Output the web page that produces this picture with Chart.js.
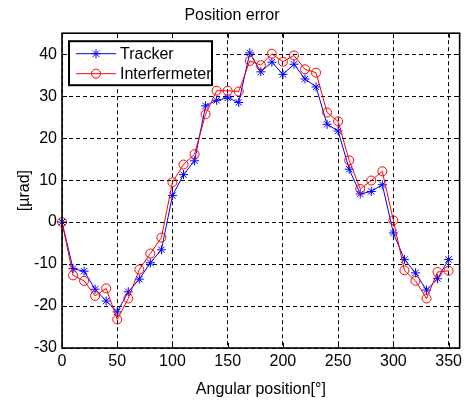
<!DOCTYPE html>
<html>
<head>
<meta charset="utf-8">
<script src="https://cdn.jsdelivr.net/npm/chart.js@4/dist/chart.umd.min.js"></script>
<style>
  html, body { margin: 0; padding: 0; background: #fff; }
  canvas { display: block; }
</style>
</head>
<body>
<canvas id="chart" width="466" height="401"></canvas>
<script>
const angles = [0, 10, 20, 30, 40, 50, 60, 70, 80, 90, 100, 110, 120, 130, 140, 150, 160, 170,
  180, 190, 200, 210, 220, 230, 240, 250, 260, 270, 280, 290, 300, 310, 320, 330, 340, 350];
const tracker = [0, -11.1, -11.7, -16.0, -18.8, -21.4, -16.6, -13.6, -9.7, -6.6, 6.3, 11.3, 14.6, 27.7,
  29.0, 29.6, 28.5, 40.3, 35.8, 38.1, 35.2, 37.6, 34.1, 32.2, 23.3, 21.7, 12.6, 6.7, 7.3, 8.9,
  -2.6, -8.9, -12.1, -16.2, -13.5, -8.9];
const interferometer = [0, -12.7, -14.0, -17.6, -15.8, -23.2, -18.2, -11.3, -7.5, -3.7, 9.5, 13.7, 16.2,
  25.7, 31.3, 31.3, 31.1, 38.4, 37.4, 40.1, 38.2, 39.7, 36.4, 35.6, 26.1, 24.0, 14.7, 7.9, 9.9, 12.1,
  0.4, -11.5, -14.0, -18.2, -11.9, -11.6];
const xTicks = [0, 50, 100, 150, 200, 250, 300, 350];
const yTicks = [-30, -20, -10, 0, 10, 20, 30, 40];

const FONT = "'Liberation Sans', Arial, sans-serif";
const BLUE = "#0000ff";
const RED = "#ff0000";

// MATLAB-style box, inward ticks and legend
const matlabAxes = {
  id: "matlabAxes",
  afterDatasetsDraw(chart) {
    const { ctx, chartArea: a } = chart;
    // legend box
    const bx = a.left + 7, by = a.top + 8, bw = 143, bh = 44;
    ctx.save();
    ctx.fillStyle = "#fff";
    ctx.fillRect(bx, by, bw, bh);
    ctx.lineWidth = 2;
    ctx.strokeStyle = "#000";
    ctx.strokeRect(bx, by, bw, bh);
    const entries = [
      { label: "Tracker", color: BLUE, style: "star" },
      { label: "Interfermeter", color: RED, style: "circle" }
    ];
    entries.forEach((e, i) => {
      const y = by + 12.5 + i * 20;
      ctx.strokeStyle = e.color;
      ctx.lineWidth = 1;
      ctx.beginPath();
      ctx.moveTo(bx + 7, y);
      ctx.lineTo(bx + 47, y);
      ctx.stroke();
      ctx.fillStyle = "rgba(0,0,0,0)";
      Chart.helpers.drawPoint(ctx, { pointStyle: e.style, radius: 4.5, borderWidth: 1 }, bx + 27, y);
      ctx.fillStyle = "#000";
      ctx.font = "16px " + FONT;
      ctx.textBaseline = "middle";
      ctx.textAlign = "left";
      ctx.fillText(e.label, bx + 51, y + 1);
    });
    ctx.restore();
  },
  afterDraw(chart) {
    const { ctx, chartArea: a, scales } = chart;
    ctx.save();
    ctx.strokeStyle = "#000";
    ctx.lineWidth = 1;
    ctx.beginPath();
    xTicks.forEach(t => {
      const px = Math.round(scales.x.getPixelForValue(t)) + 0.5;
      ctx.moveTo(px, a.top); ctx.lineTo(px, a.top + 5);
      ctx.moveTo(px, a.bottom); ctx.lineTo(px, a.bottom - 5);
    });
    yTicks.forEach(t => {
      const py = Math.round(scales.y.getPixelForValue(t)) + 0.5;
      ctx.moveTo(a.left, py); ctx.lineTo(a.left + 5, py);
      ctx.moveTo(a.right, py); ctx.lineTo(a.right - 5, py);
    });
    ctx.stroke();
    ctx.lineWidth = 1.6;
    ctx.strokeRect(a.left, a.top, a.right - a.left, a.bottom - a.top);
    ctx.restore();
  }
};

new Chart(document.getElementById("chart"), {
  type: "line",
  data: {
    datasets: [
      {
        label: "Interfermeter",
        data: angles.map((a, i) => ({ x: a, y: interferometer[i] })),
        borderColor: RED,
        backgroundColor: "rgba(0,0,0,0)",
        borderWidth: 1,
        pointStyle: "circle",
        pointRadius: 4.5,
        pointBorderWidth: 1,
        pointBorderColor: RED,
        pointBackgroundColor: "rgba(0,0,0,0)",
        tension: 0,
        clip: false
      },
      {
        label: "Tracker",
        data: angles.map((a, i) => ({ x: a, y: tracker[i] })),
        borderColor: BLUE,
        backgroundColor: BLUE,
        borderWidth: 1,
        pointStyle: "star",
        pointRadius: 4.5,
        pointBorderWidth: 1,
        pointBorderColor: BLUE,
        tension: 0,
        clip: false
      }
    ]
  },
  options: {
    responsive: false,
    animation: false,
    layout: { padding: { left: 0, right: 2, top: 0, bottom: 0 }, autoPadding: false },
    plugins: {
      legend: { display: false },
      tooltip: { enabled: false },
      title: {
        display: true,
        text: "Position error",
        color: "#000",
        font: { family: FONT, size: 16, weight: "normal" },
        padding: { top: 6, bottom: 8 }
      }
    },
    scales: {
      x: {
        type: "linear",
        min: 0,
        max: 360,
        afterBuildTicks: s => { s.ticks = xTicks.map(v => ({ value: v })); },
        afterFit: s => { s.height = 53; },
        grid: { color: "#000", lineWidth: 1, drawTicks: false },
        border: { display: false, dash: [4, 3] },
        ticks: { color: "#000", padding: 4, font: { family: FONT, size: 16 }, maxRotation: 0 },
        title: {
          display: true,
          text: "Angular position[°]",
          color: "#000",
          font: { family: FONT, size: 16 },
          padding: { top: 0, bottom: 2 }
        }
      },
      y: {
        type: "linear",
        min: -30,
        max: 45,
        afterBuildTicks: s => { s.ticks = yTicks.map(v => ({ value: v })); },
        afterFit: s => { s.width = 62; },
        grid: { color: "#000", lineWidth: 1, drawTicks: false },
        border: { display: false, dash: [4, 3] },
        ticks: { color: "#000", padding: 5, font: { family: FONT, size: 16 } },
        title: {
          display: true,
          text: "[µrad]",
          color: "#000",
          font: { family: FONT, size: 16 },
          padding: { top: 15, bottom: 0 }
        }
      }
    }
  },
  plugins: [matlabAxes]
});
</script>
</body>
</html>
